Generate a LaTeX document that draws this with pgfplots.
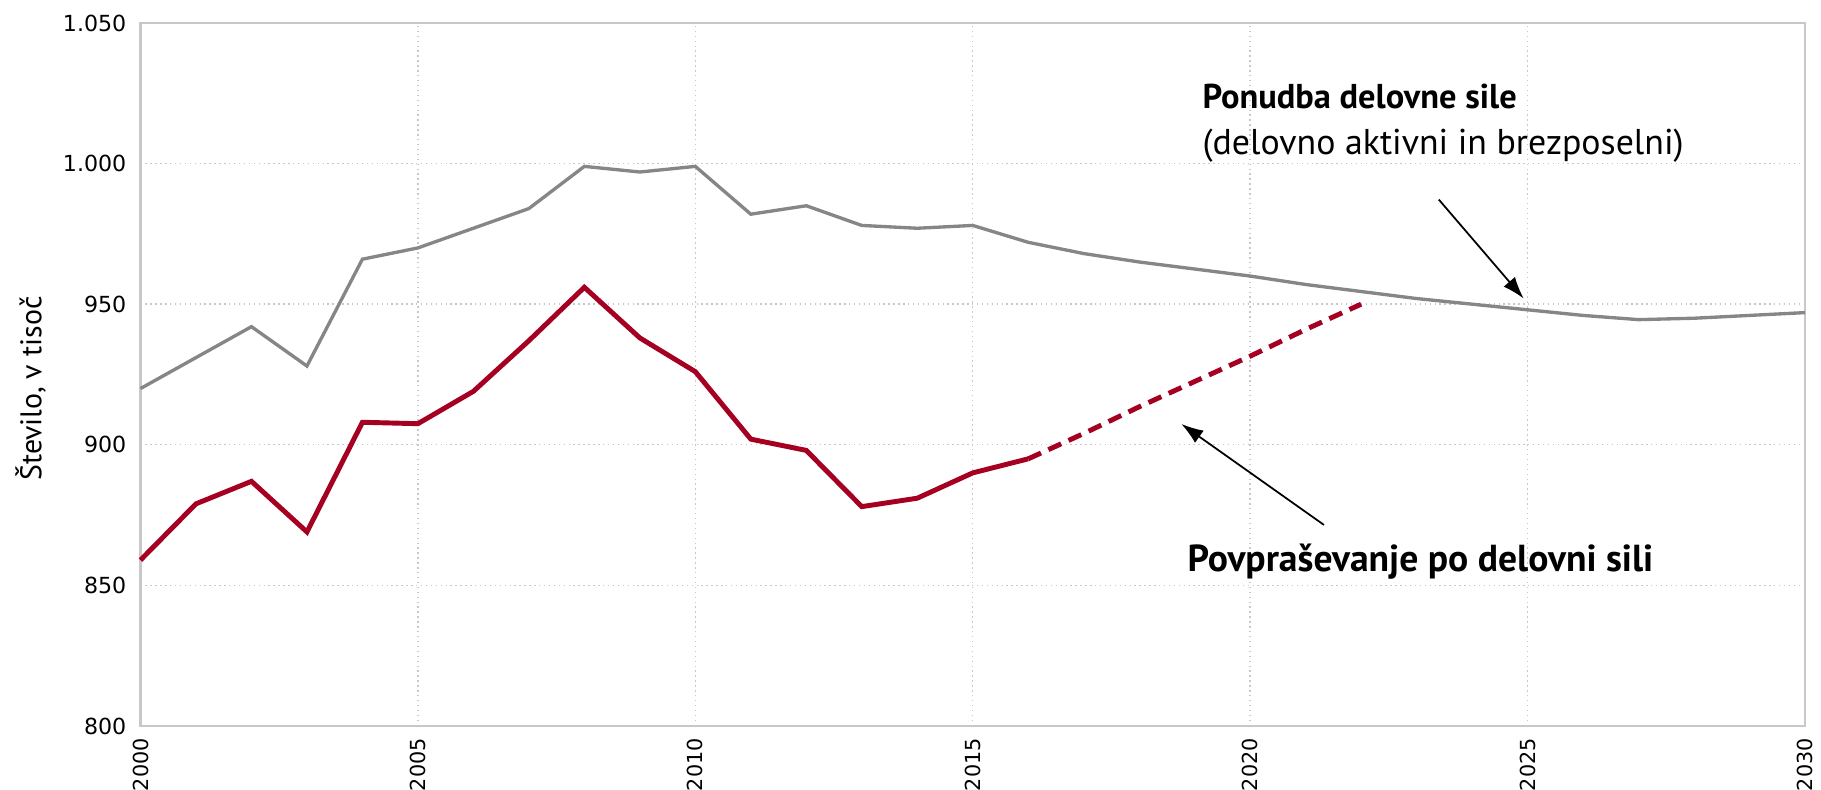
\documentclass[border=0pt]{standalone}
\usepackage{pgfplots}
\pgfplotsset{compat=1.18}
\usepackage{fontspec}
\setmainfont{PT Sans}
\newfontfamily\tickfont{DejaVu Sans}
\usetikzlibrary{arrows.meta}
\definecolor{ponudba}{HTML}{868686}
\definecolor{povpras}{HTML}{A50021}
\definecolor{mreza}{HTML}{C8C8C8}

\begin{document}
\begin{tikzpicture}
\begin{axis}[
    scale only axis,
    width=16.645cm, height=7.03cm,
    xmin=2000, xmax=2030,
    ymin=800, ymax=1050,
    xtick={2000,2005,...,2030},
    ytick={800,850,...,1050},
    major tick length=0pt,
    grid=major,
    major grid style={densely dotted, mreza, line width=0.4pt},
    axis line style={mreza, line width=0.8pt},
    /pgf/number format/assume math mode=true,
    yticklabel style={font=\tickfont\fontsize{6.3}{7}\selectfont,
        /pgf/number format/1000 sep={.}, xshift=-0.5pt},
    xticklabel style={font=\tickfont\fontsize{5.9}{6}\selectfont,
        /pgf/number format/1000 sep={}, rotate=90, anchor=east},
    clip=false,
]
% ponudba delovne sile
\addplot[ponudba, line width=0.95pt] coordinates {
    (2000,920) (2001,931) (2002,942) (2003,928) (2004,966)
    (2005,970) (2006,977) (2007,984) (2008,999) (2009,997)
    (2010,999) (2011,982) (2012,985) (2013,978) (2014,977)
    (2015,978) (2016,972) (2017,968) (2018,965) (2019,962.5)
    (2020,960) (2021,957) (2022,954.5) (2023,952) (2024,950)
    (2025,948) (2026,946) (2027,944.5) (2028,945) (2029,946)
    (2030,947)
};
% povprasevanje, zgodovina
\addplot[povpras, line width=1.4pt] coordinates {
    (2000,859) (2001,879) (2002,887) (2003,869) (2004,908)
    (2005,907.5) (2006,919) (2007,937) (2008,956) (2009,938)
    (2010,926) (2011,902) (2012,898) (2013,878) (2014,881)
    (2015,890) (2016,895)
};
% povprasevanje, projekcija
\addplot[povpras, line width=1.4pt, dash pattern=on 4pt off 2.3pt] coordinates {
    (2016,895) (2017,904) (2018,913.5) (2019,922.5) (2020,931.5)
    (2021,941) (2022,950)
};

\node[anchor=west, font=\bfseries\fontsize{9.8}{11}\selectfont, inner sep=0pt]
    at (axis cs:2019.13,1024) {Ponudba delovne sile};
\node[anchor=west, font=\fontsize{10.2}{11}\selectfont, inner sep=0pt]
    at (axis cs:2019.13,1006.5) {(delovno aktivni in brezposelni)};
\draw[-{Latex[length=2.2mm,width=1.5mm]}, line width=0.5pt]
    (axis cs:2023.4,987.2) -- (axis cs:2024.93,952);

\node[anchor=west, font=\bfseries\fontsize{10.7}{12}\selectfont, inner sep=0pt]
    at (axis cs:2018.86,858.5) {Povpraševanje po delovni sili};
\draw[-{Latex[length=2.2mm,width=1.5mm]}, line width=0.5pt]
    (axis cs:2021.33,871.5) -- (axis cs:2018.76,907.4);

\coordinate (yl) at (rel axis cs:0,0.48);
\coordinate (sw) at (rel axis cs:0,0);
\coordinate (ne) at (rel axis cs:1,1);
\end{axis}
\node[rotate=90, font=\fontsize{8.5}{10}\selectfont] at ([xshift=-1.1cm]yl) {Število, v tisoč};
\pgfresetboundingbox
\path[use as bounding box] ([xshift=-1.405cm, yshift=-0.64cm]sw) rectangle ([xshift=0.16cm, yshift=0.23cm]ne);
\end{tikzpicture}
\end{document}
